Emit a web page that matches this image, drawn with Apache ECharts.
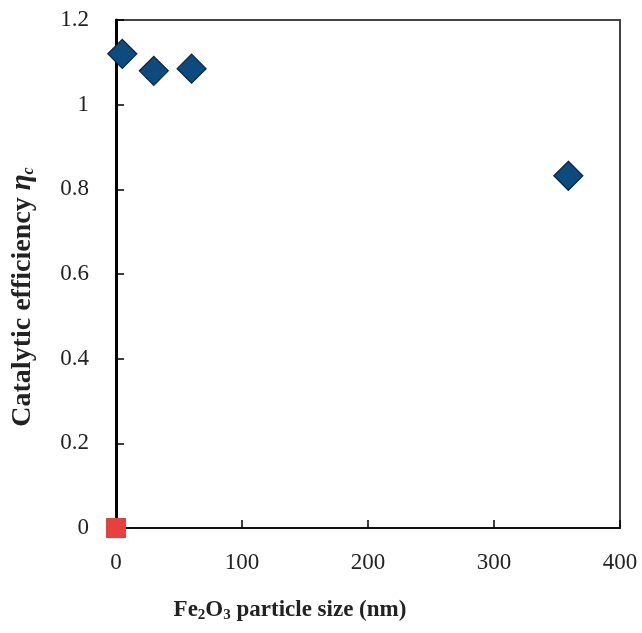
<!DOCTYPE html>
<html><head><meta charset="utf-8">
<script src="https://cdn.jsdelivr.net/npm/echarts@6/dist/echarts.min.js"></script>
<style>html,body{margin:0;padding:0;background:#fff}#c{width:642px;height:633px}</style>
</head><body><div id="c"></div>
<script>
const particleSize = [5, 30, 60, 359];
const efficiency = [1.12, 1.08, 1.085, 0.832];
const refPoint = [[0, 0]];
const xTicks = [0, 100, 200, 300, 400];
const yTicks = [0, 0.2, 0.4, 0.6, 0.8, 1, 1.2];

const chart = echarts.init(document.getElementById('c'));
const serif = '"Liberation Serif","DejaVu Serif",serif';
chart.setOption({
  backgroundColor: '#fff',
  animation: false,
  grid: {left: 116, top: 20, right: 22, bottom: 105, outerBoundsMode: 'none', containLabel: false,
         show: true, borderColor: '#444', borderWidth: 2, backgroundColor: 'transparent'},
  xAxis: {
    type: 'value', min: xTicks[0], max: xTicks[xTicks.length-1], interval: 100,
    axisLine: {show: true, onZero: false, lineStyle: {color: '#000', width: 1.5}},
    axisTick: {show: true, inside: true, length: 8, lineStyle: {color: '#000', width: 1.5}},
    axisLabel: {margin: 23, fontFamily: serif, fontSize: 23, color: '#222'},
    splitLine: {show: false},
    name: '{t|Fe}{s|2}{t|O}{s|3}{t| particle size (nm)}',
    nameLocation: 'middle', nameGap: 70,
    nameTextStyle: {padding: [0, 156, 0, 0],
      rich: {t: {fontFamily: serif, fontSize: 23, fontWeight: 'bold', color: '#222'},
             s: {fontFamily: serif, fontSize: 15, fontWeight: 'bold', color: '#222', verticalAlign: 'bottom', padding: [10, 0, 0, 0]}}}
  },
  yAxis: {
    type: 'value', min: 0, max: 1.2, interval: 0.2,
    axisLine: {show: true, onZero: false, lineStyle: {color: '#000', width: 3}},
    axisTick: {show: true, inside: true, length: 8, lineStyle: {color: '#000', width: 1.5}},
    axisLabel: {margin: 27, fontFamily: serif, fontSize: 23, color: '#222',
      formatter: v => yTicks.indexOf(Math.round(v*10)/10) >= 0 ? String(Math.round(v*10)/10) : ''},
    splitLine: {show: false},
    name: '{t|Catalytic efficiency }{e|η}{s|c}',
    nameLocation: 'middle', nameGap: 79,
    nameTextStyle: {padding: [0, 46, 0, 0],
      rich: {t: {fontFamily: serif, fontSize: 28, fontWeight: 'bold', color: '#222'},
             e: {fontFamily: serif, fontSize: 29, fontWeight: 'bold', fontStyle: 'italic', color: '#222'},
             s: {fontFamily: serif, fontSize: 16, fontWeight: 'bold', fontStyle: 'italic', color: '#222', verticalAlign: 'bottom', padding: [12, 0, 0, 0]}}}
  },
  series: [
    {type: 'scatter', data: particleSize.map((x, i) => [x, efficiency[i]]),
     symbol: 'diamond', symbolSize: [29, 29],
     itemStyle: {color: '#0d4a7e', borderColor: '#0a2340', borderWidth: 1.2, opacity: 1}, z: 5},
    {type: 'scatter', data: refPoint, symbol: 'rect', symbolSize: 20,
     itemStyle: {color: '#e8403e', opacity: 1}, z: 6}
  ]
});
</script></body></html>
